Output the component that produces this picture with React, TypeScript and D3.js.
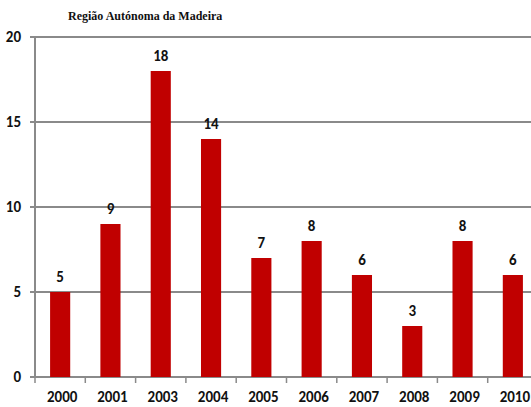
import React from "react";
import * as d3 from "d3";

const categories = ["2000", "2001", "2003", "2004", "2005", "2006", "2007", "2008", "2009", "2010"];
const values = [5, 9, 18, 14, 7, 8, 6, 3, 8, 6];
const yTicks = [0, 5, 10, 15, 20];
const title = "Região Autónoma da Madeira";

export default function App() {
  const W = 531, H = 407;
  const x0 = 35, y0 = 377, yTop = 37;
  const x = d3.scaleBand<string>().domain(categories).range([x0, x0 + 503]).paddingInner(0.6).paddingOuter(0.3);
  const xs = d3.scaleBand<string>().domain(categories).range([x0, x0 + 503]);
  const y = d3.scaleLinear().domain([0, 20]).range([y0, yTop]);
  const font = "Carlito, 'Liberation Sans', 'DejaVu Sans', sans-serif";
  return (
    <svg width={W} height={H} style={{ position: "absolute", left: 0, top: 0, background: "#fff" }}>
      <text x={68} y={20} fontFamily="'Liberation Serif', 'Times New Roman', 'DejaVu Serif', serif" fontWeight="bold" fontSize={12} fill="#111">{title}</text>
      {yTicks.map(t => (
        <g key={t}>
          <line x1={x0 - 5} x2={W} y1={y(t)} y2={y(t)} stroke="#8a8a8a" strokeWidth={2} />
          <text x={21} y={y(t) + 5} textAnchor="end" fontFamily={font} fontWeight="bold" fontSize={15} fill="#111">{t}</text>
        </g>
      ))}
      <line x1={x0} x2={x0} y1={yTop} y2={y0} stroke="#8a8a8a" strokeWidth={2} />
      {categories.map((c) => (
        <line key={"t" + c} x1={xs(c)!} x2={xs(c)!} y1={y0} y2={y0 + 6} stroke="#8a8a8a" strokeWidth={1.5} />
      ))}
      {categories.map((c, i) => (
        <g key={c}>
          <rect x={x(c)!} y={y(values[i])} width={x.bandwidth()} height={y0 - y(values[i])} fill="#C00000" />
          <text x={x(c)! + x.bandwidth() / 2} y={y(values[i]) - 10} textAnchor="middle" fontFamily={font} fontWeight="bold" fontSize={15} fill="#111">{values[i]}</text>
          <text x={xs(c)! + xs.bandwidth() / 2 + 2} y={402} textAnchor="middle" fontFamily={font} fontWeight="bold" fontSize={15} fill="#111">{c}</text>
        </g>
      ))}
    </svg>
  );
}
